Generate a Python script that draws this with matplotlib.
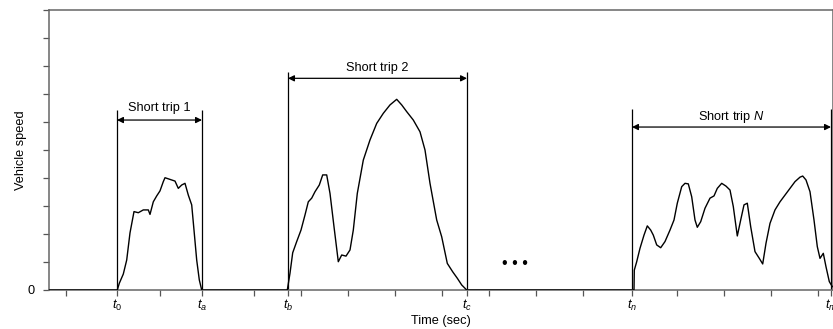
import numpy as np
import matplotlib
matplotlib.use("Agg")
import matplotlib.pyplot as plt

plt.rcParams["font.family"] = ["Liberation Sans", "DejaVu Sans"]
plt.rcParams["mathtext.fontset"] = "custom"
plt.rcParams["mathtext.rm"] = "Liberation Sans"
plt.rcParams["mathtext.it"] = "Liberation Sans:italic"

# Trip boundaries (s)
t_marks = [68, 153, 239, 418, 583, 782]
t_labels = [r"$t_{\mathit{0}}$", r"$t_a$", r"$t_b$", r"$t_c$", r"$t_n$", r"$t_m$"]
grid_ticks = [17, 111, 205, 252, 299, 346, 393, 440, 487, 534, 628, 675, 722, 769]

# Speed profile of each short trip (time s, speed)
trip1_t = [68.3, 70.3, 74.3, 77.7, 81, 85, 89.3, 94.3, 99.3, 101, 104.3, 107.7, 111,
           114.3, 116, 121, 126, 129.3, 132.7, 136, 139.3, 142.7, 145, 147.7, 150.3, 152.7]
trip1_v = [0, 2.4, 5.7, 10.7, 20.4, 28.0, 27.6, 28.6, 28.6, 27.0, 31.5, 33.6, 35.4,
           38.7, 40.1, 39.5, 38.9, 36.3, 37.5, 38.1, 33.9, 30.4, 21.4, 10.7, 3.6, 0]

trip2_t = [238.3, 241, 243.7, 247.7, 252, 256, 259.3, 262.7, 266, 270.3, 273.7, 277.7,
           281, 285, 289.3, 292.7, 297, 301, 304.3, 308.3, 314.3, 321, 327.7, 334.3,
           341, 347.7, 352.7, 357.7, 364.3, 371, 376, 381, 387.7, 392.7, 398.3, 403.7,
           408.3, 412.7, 417.7]
trip2_v = [0, 6.0, 13.3, 17.3, 21.4, 26.8, 31.5, 32.8, 35.1, 37.5, 41.1, 41.1,
           34.5, 22.6, 10.1, 12.5, 12.1, 14.3, 21.4, 34.5, 46.4, 53.6, 59.5, 63.1,
           66.1, 68.1, 66.1, 63.7, 60.7, 56.5, 50.0, 38.1, 25.0, 19.0, 9.5, 6.5,
           4.2, 1.8, 0]

tripN_t = [585, 585.3, 587.7, 591, 595, 598.3, 601.7, 604.3, 607.7, 611.7, 616, 621,
           625, 628.3, 632.7, 636, 639.3, 642.7, 646, 648.3, 651.7, 656, 661, 665,
           668.3, 672.7, 677, 681, 684.3, 688.3, 691.7, 695, 698.3, 701.7, 706,
           710.3, 713.7, 717, 721, 726, 731, 736, 741, 746, 751, 753.7, 757, 761,
           765, 768.3, 771, 774.3, 777, 780.3, 783.3]
tripN_v = [0, 7.1, 10.1, 14.9, 19.6, 22.9, 21.4, 19.6, 16.1, 15.1, 17.3, 21.4,
           25.0, 31.0, 36.9, 38.1, 37.9, 33.3, 25.0, 22.4, 24.4, 29.2, 32.8, 33.6,
           36.3, 38.1, 37.1, 35.7, 29.8, 19.3, 25.0, 30.4, 31.0, 22.6, 13.7,
           11.3, 9.3, 16.7, 23.8, 28.6, 31.5, 33.9, 36.3, 38.7, 40.3, 40.7, 39.3, 35.1,
           25.0, 15.5, 11.3, 13.1, 8.3, 3.0, 1.2]

trip_names = ["Short trip 1", "Short trip 2", r"Short trip $N$"]
trip_spans = [(68, 153), (239, 418), (583, 782)]
arrow_levels = [60.7, 75.6, 58.2]
line_tops = [64.3, 77.8, 64.5]
label_levels = [65.0, 79.2, 61.8]

time = np.concatenate([[0], trip1_t, trip2_t, tripN_t])
speed = np.concatenate([[0], trip1_v, trip2_v, tripN_v])

fig = plt.figure(figsize=(8.33, 3.29), dpi=100)
ax = fig.add_axes([49 / 833, 39 / 329, 784 / 833, 280 / 329])

ax.plot(time, speed, color="black", lw=1.0, zorder=3)

for name, (a, b), ya, yt, yl in zip(trip_names, trip_spans, arrow_levels,
                                     line_tops, label_levels):
    ax.vlines([a, b], 0, yt, color="black", lw=0.9, zorder=2)
    ax.annotate("", xy=(a, ya), xytext=(b, ya),
                arrowprops=dict(arrowstyle="<|-|>", color="black", lw=0.9,
                                mutation_scale=9, shrinkA=0, shrinkB=0))
    ax.text((a + b) / 2, yl, name, ha="center", va="center", fontsize=9.2)

ax.text(466, 9.6, "• • •", ha="center", va="center", fontsize=11.5)

ax.set_xlim(0, 784)
ax.set_ylim(0, 100)

ticks = list(t_marks) + grid_ticks
labels = list(t_labels) + [""] * len(grid_ticks)
ax.set_xticks(ticks, labels)
ax.set_yticks(np.arange(0, 101, 10), ["0"] + [""] * 10)
ax.tick_params(direction="out", length=4, width=0.9, color="#555555",
               labelsize=9.2)
ax.tick_params(axis="x", pad=2)
ax.tick_params(axis="y", pad=6)

for side in ["left", "bottom", "top", "right"]:
    ax.spines[side].set_color("#666666")
    ax.spines[side].set_linewidth(1.1)

ax.set_xlabel("Time (sec)", fontsize=9.2, labelpad=1)
ax.set_ylabel("Vehicle speed", fontsize=9.2, labelpad=1)

fig.savefig("out.png", dpi=100)
